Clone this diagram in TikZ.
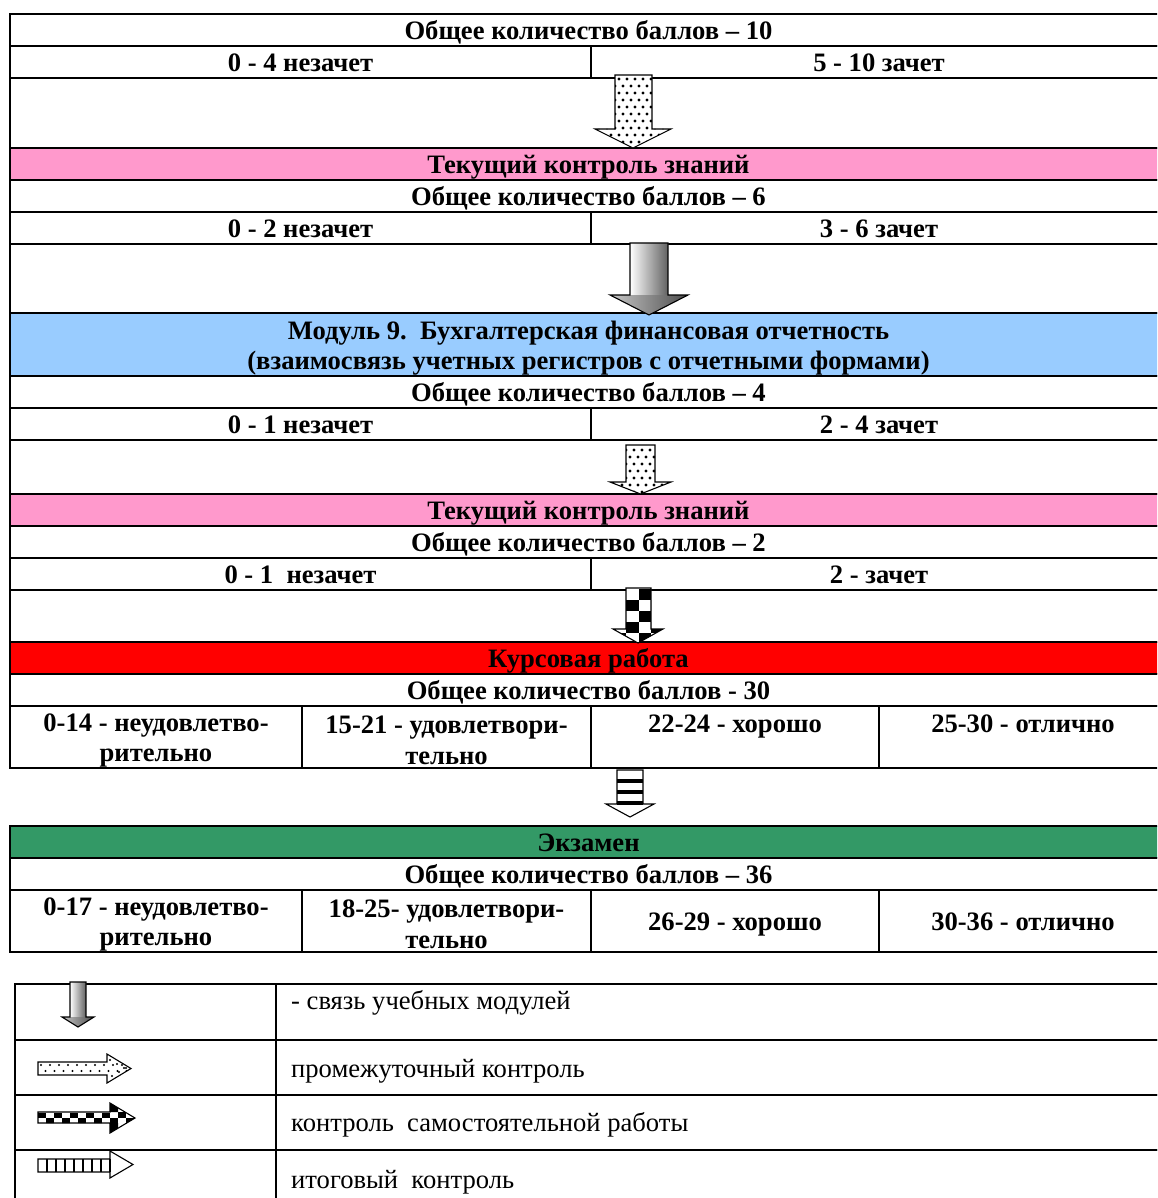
\documentclass[tikz,border=0pt]{standalone}
\usepackage{fontspec}
\setmainfont{Liberation Serif}
\definecolor{pinkrow}{HTML}{FF99CC}
\definecolor{bluerow}{HTML}{99CCFF}
\definecolor{redrow}{HTML}{FF0000}
\definecolor{greenrow}{HTML}{339966}
\newcommand\tabfont{\fontsize{26.6}{30.5}\selectfont\bfseries}
\newcommand\legfont{\fontsize{26.6}{31}\selectfont}
\tikzset{
  tb/.style={draw, line width=1.4pt, inner sep=0pt, outer sep=0pt, anchor=north west, fill=white},
  tbtext/.style={inner sep=0pt, font=\tabfont, align=center, yshift=-3.5pt},
  tbline/.style={inner sep=0pt, font=\tabfont, anchor=base, yshift=-9.5pt},
  tbtop/.style={inner sep=0pt, font=\tabfont, anchor=base, yshift=-26.5pt},
  legbox/.style={draw, line width=1.4pt, inner sep=0pt, outer sep=0pt, anchor=north west},
  legtext/.style={anchor=west, inner sep=0pt, font=\legfont},
  arrline/.style={draw=black, line width=1.1pt, line join=miter},
}
% one-line cell: name, x1, y1, x2, y2, fill, text
\newcommand\cellbox[7]{%
  \node[tb, fill=#6, minimum width={(#4)-(#2)}, minimum height={(#5)-(#3)}] (#1) at (#2,#3) {};
  \node[tbline] (#1-t) at (#1.center) {#7};}
% multi-line cell
\newcommand\cellboxm[7]{%
  \node[tb, fill=#6, minimum width={(#4)-(#2)}, minimum height={(#5)-(#3)}] (#1) at (#2,#3) {};
  \node[tbtext] (#1-t) at (#1.center) {#7};}
% top-aligned one-line cell
\newcommand\cellboxt[7]{%
  \node[tb, fill=#6, minimum width={(#4)-(#2)}, minimum height={(#5)-(#3)}] (#1) at (#2,#3) {};
  \node[tbtop] (#1-t) at (#1.north) {#7};}
% empty cell
\newcommand\cellgap[5]{%
  \node[tb, fill=white, minimum width={(#4)-(#2)}, minimum height={(#5)-(#3)}] (#1) at (#2,#3) {};}
% down arrow: xl, xr, yt, hl, hr, yh, yp, fill code
\newcommand\downarr[8]{%
  \begin{scope}
    \clip (#1,#3) -- (#2,#3) -- (#2,#6) -- (#5,#6) -- ({(#4+#5)/2},#7) -- (#4,#6) -- (#1,#6) -- cycle;
    \fill[white] (#4,#3) rectangle (#5,#7);
    #8
  \end{scope}
  \draw[arrline] (#1,#3) -- (#2,#3) -- (#2,#6) -- (#5,#6) -- ({(#4+#5)/2},#7) -- (#4,#6) -- (#1,#6) -- cycle;
}
% right arrow: x1, x2, y1, y2, hy1, hy2, tipx, fill code
\newcommand\rightarr[8]{%
  \begin{scope}
    \clip (#1,#3) -- (#2,#3) -- (#2,#5) -- (#7,{(#5+#6)/2}) -- (#2,#6) -- (#2,#4) -- (#1,#4) -- cycle;
    \fill[white] (#1,#5) rectangle (#7,#6);
    #8
  \end{scope}
  \draw[arrline] (#1,#3) -- (#2,#3) -- (#2,#5) -- (#7,{(#5+#6)/2}) -- (#2,#6) -- (#2,#4) -- (#1,#4) -- cycle;
}
\begin{document}
\begin{tikzpicture}[x=1pt, y=-1pt]
\useasboundingbox (0,0) rectangle (1157,1198);
\fill[white] (0,0) rectangle (1157,1198);
\clip (0,0) rectangle (1157,1198);
% ---- table
\cellbox{r1}{10}{14}{1167}{46}{white}{Общее количество баллов – 10}
\cellbox{r2a}{10}{46}{591}{78}{white}{0 - 4 незачет}
\cellbox{r2b}{591}{46}{1167}{78}{white}{5 - 10 зачет}
\cellgap{g1}{10}{78}{1167}{148}
\cellbox{r3}{10}{148}{1167}{180}{pinkrow}{Текущий контроль знаний}
\cellbox{r4}{10}{180}{1167}{212}{white}{Общее количество баллов – 6}
\cellbox{r5a}{10}{212}{591}{244}{white}{0 - 2 незачет}
\cellbox{r5b}{591}{212}{1167}{244}{white}{3 - 6 зачет}
\cellgap{g2}{10}{244}{1167}{313}
\cellboxm{r6}{10}{313}{1167}{376}{bluerow}{Модуль 9.\ \ Бухгалтерская финансовая отчетность\\(взаимосвязь учетных регистров с отчетными формами)}
\cellbox{r7}{10}{376}{1167}{408}{white}{Общее количество баллов – 4}
\cellbox{r8a}{10}{408}{591}{440}{white}{0 - 1 незачет}
\cellbox{r8b}{591}{408}{1167}{440}{white}{2 - 4 зачет}
\cellgap{g3}{10}{440}{1167}{494}
\cellbox{r9}{10}{494}{1167}{526}{pinkrow}{Текущий контроль знаний}
\cellbox{r10}{10}{526}{1167}{558}{white}{Общее количество баллов – 2}
\cellbox{r11a}{10}{558}{591}{590}{white}{0 - 1\ \ незачет}
\cellbox{r11b}{591}{558}{1167}{590}{white}{2 - зачет}
\cellgap{g4}{10}{590}{1167}{642}
\cellbox{r12}{10}{642}{1167}{674}{redrow}{Курсовая работа}
\cellbox{r13}{10}{674}{1167}{706}{white}{Общее количество баллов - 30}
\cellboxm{r14a}{10}{706}{302}{768}{white}{0-14 - неудовлетво-\\рительно}
\cellboxm{r14b}{302}{706}{591}{768}{white}{15-21 - удовлетвори-\\тельно}
\cellboxt{r14c}{591}{706}{879}{768}{white}{22-24 - хорошо}
\cellboxt{r14d}{879}{706}{1167}{768}{white}{25-30 - отлично}
\cellbox{r15}{10}{826}{1167}{858}{greenrow}{Экзамен}
\cellbox{r16}{10}{858}{1167}{890}{white}{Общее количество баллов – 36}
\cellboxm{r17a}{10}{890}{302}{952}{white}{0-17 - неудовлетво-\\рительно}
\cellboxm{r17b}{302}{890}{591}{952}{white}{18-25- удовлетвори-\\тельно}
\cellbox{r17c}{591}{890}{879}{952}{white}{26-29 - хорошо}
\cellbox{r17d}{879}{890}{1167}{952}{white}{30-36 - отлично}
% ---- legend boxes
\node[legbox, minimum width=261, minimum height=56] (l1a) at (15,984) {};
\node[legbox, minimum width=900, minimum height=56] (l1b) at (276,984) {};
\node[legbox, minimum width=261, minimum height=55] (l2a) at (15,1040) {};
\node[legbox, minimum width=900, minimum height=55] (l2b) at (276,1040) {};
\node[legbox, minimum width=261, minimum height=55] (l3a) at (15,1095) {};
\node[legbox, minimum width=900, minimum height=55] (l3b) at (276,1095) {};
\node[legbox, minimum width=261, minimum height=70] (l4a) at (15,1150) {};
\node[legbox, minimum width=900, minimum height=70] (l4b) at (276,1150) {};
\node[legtext] (t1) at (291,1003) {- связь учебных модулей};
\node[legtext] (t2) at (291,1071) {промежуточный контроль};
\node[legtext] (t3) at (291,1125) {контроль\ \ самостоятельной работы};
\node[legtext] (t4) at (291,1182) {итоговый\ \ контроль};
% ---- arrows
% A1 dotted
\downarr{615}{652}{75}{595}{671}{129}{148}{%
  \foreach \i in {0,...,10} \foreach \j in {0,...,5} {
    \fill (595+8*\i,79+14*\j) circle[radius=1.6pt];
    \fill (599+8*\i,86+14*\j) circle[radius=1.6pt];}}
% A2 gradient
\downarr{630}{668}{243}{610}{688}{295}{315}{%
  \shade[left color=white, right color=black!62] (630,243) rectangle (668,296);
  \shade[left color=black!22, right color=black!70] (610,295) rectangle (688,316);}
% A3 dotted
\downarr{626}{655}{445}{610}{671}{482}{494}{%
  \foreach \i in {0,...,8} \foreach \j in {0,...,3} {
    \fill (610+8*\i,450+14*\j) circle[radius=1.6pt];
    \fill (614+8*\i,457+14*\j) circle[radius=1.6pt];}}
% A4 checker
\downarr{626}{651}{588}{613}{663}{629}{643}{%
  \foreach \i in {-1,...,2} \foreach \j in {0,...,4} {
    \pgfmathtruncatemacro\chk{mod(\i+\j+4,2)}
    \ifnum\chk=1 \fill (626+12.5*\i,589+11*\j) rectangle ++(12.5,11); \fi}}
% A5 stripes
\downarr{617}{643}{770}{606}{654}{804}{817}{%
  \foreach \k in {0,...,2} \fill (617,779+11*\k) rectangle (643,782.5+11*\k);}
% L1 gradient down
\downarr{70}{86}{982}{62}{94}{1017}{1027}{%
  \shade[left color=white, right color=black!62] (70,982) rectangle (86,1018);
  \shade[left color=black!22, right color=black!70] (62,1017) rectangle (94,1027);}
% L2 dotted right
\rightarr{38}{107}{1062}{1075}{1054}{1083}{131}{%
  \foreach \i in {0,...,10} {
    \fill (41+9*\i,1065) circle[radius=1.1pt];
    \fill (45.5+9*\i,1071) circle[radius=1.1pt];}
  \foreach \i in {0,...,2} {
    \fill (110+7*\i,1060+4*\i) circle[radius=1.1pt];
    \fill (112+7*\i,1076-4*\i) circle[radius=1.1pt];}}
% L3 checker right
\rightarr{38}{110}{1112}{1123}{1103}{1133}{135}{%
  \foreach \i in {0,...,11} \foreach \j in {0,...,1} {
    \pgfmathtruncatemacro\chk{mod(\i+\j,2)}
    \ifnum\chk=0 \fill (38+8*\i,1112.5+5.5*\j) rectangle ++(8,5.5); \fi}
  \fill (110,1103) -- (118,1108) -- (118,1112) -- (110,1112) -- cycle;
  \fill (110,1133) -- (118,1128) -- (118,1123) -- (110,1123) -- cycle;
  \fill (118,1112) rectangle (126,1118);
  \fill (126,1118) -- (135,1118) -- (126,1124) -- cycle;}
% L4 stripes right
\rightarr{38}{110}{1159}{1172}{1151}{1178}{133}{%
  \foreach \k in {0,...,7} \fill (45.5+9*\k,1159) rectangle ++(2,13);}
\end{tikzpicture}
\end{document}
